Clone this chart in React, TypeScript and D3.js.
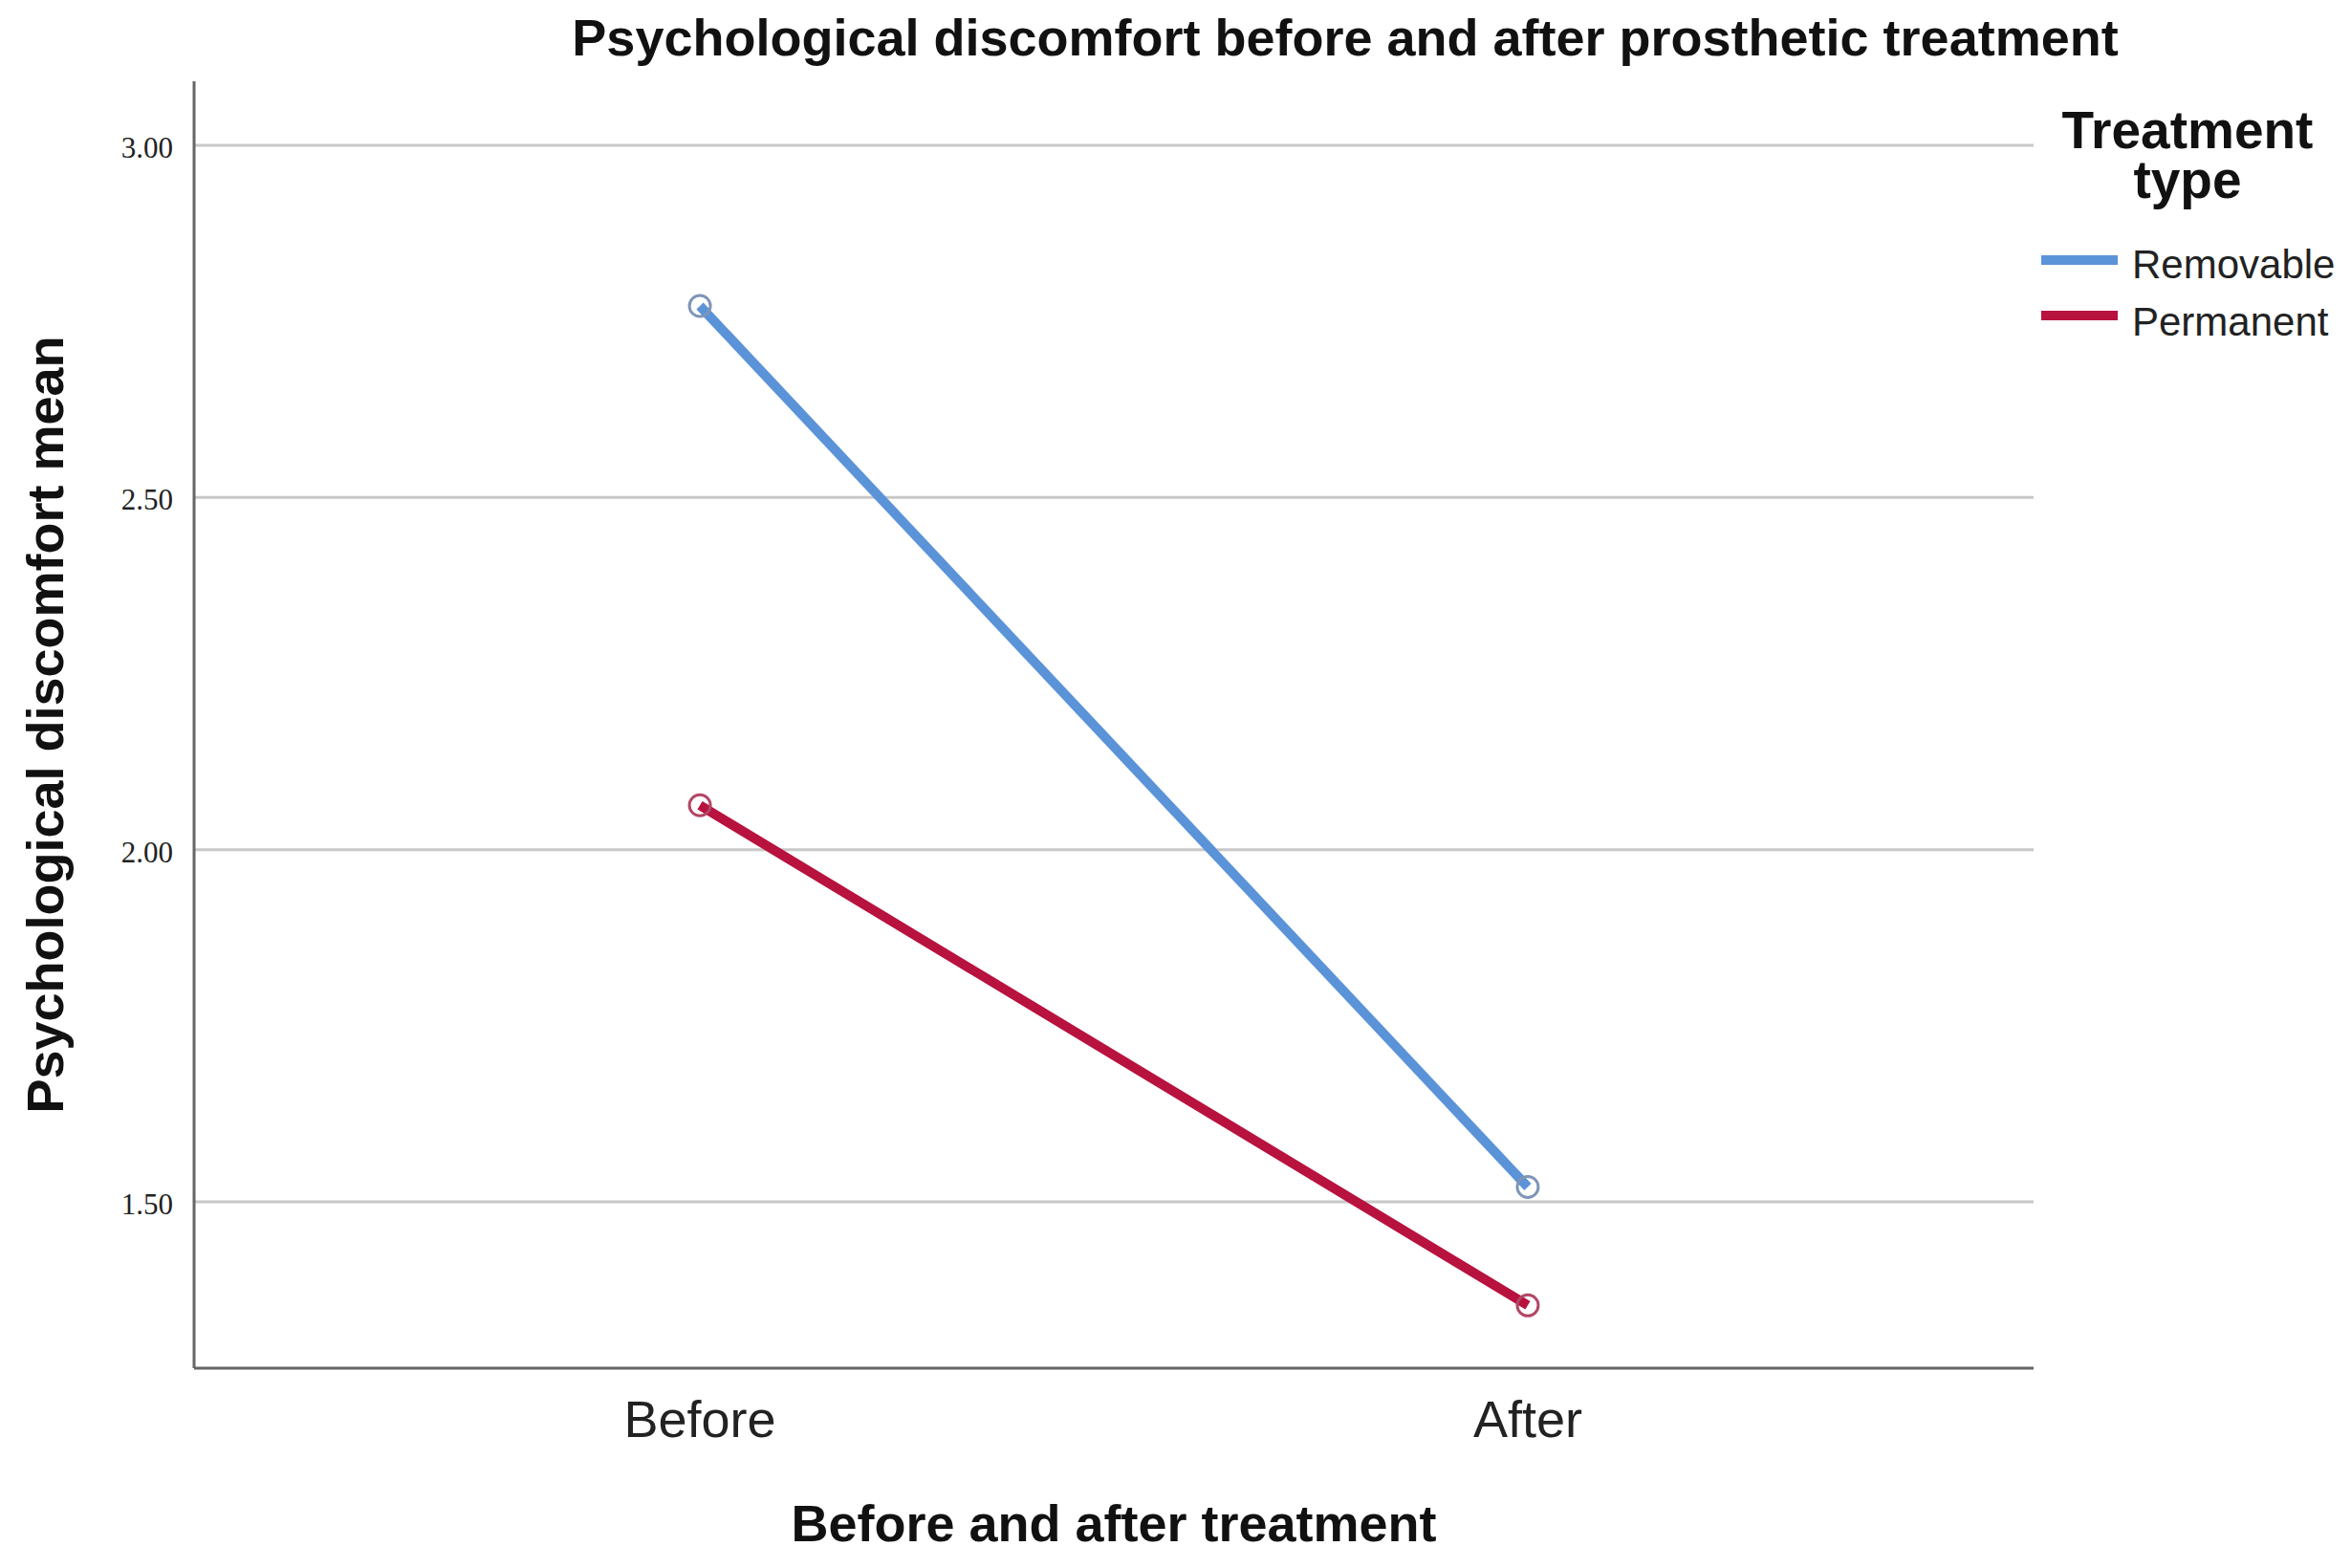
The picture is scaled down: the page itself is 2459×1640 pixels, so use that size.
import React from "react";
import * as d3 from "d3";

const categories = ["Before", "After"];
const seriesNames = ["Removable", "Permanent"];
const removableValues = [2.772, 1.521];
const permanentValues = [2.063, 1.353];
const yTicks = [1.5, 2.0, 2.5, 3.0];
const colors = ["#5b93d8", "#b8123f"];
const markerColors = ["#7f95b5", "#b24766"];

const W = 2459;
const H = 1640;
const left = 203;
const right = 2127;
const top = 85;
const bottom = 1431;

export default function App() {
  const x = d3.scalePoint<string>().domain(categories).range([left, right]).padding(0.611);
  const y = d3.scaleLinear().domain([1.2638, 3.091]).range([bottom, top]);
  const line = d3
    .line<number>()
    .x((_, i) => x(categories[i]) as number)
    .y((d) => y(d));
  const series = [removableValues, permanentValues];
  const fmt = d3.format(".2f");
  const sans = "'Liberation Sans', Arial, sans-serif";

  return (
    <svg
      width={W}
      height={H}
      style={{ position: "absolute", left: 0, top: 0, background: "#fff" }}
    >
      <rect x={0} y={0} width={W} height={H} fill="#fff" />
      {/* gridlines */}
      {yTicks.map((t) => (
        <line key={t} x1={left} x2={right} y1={y(t)} y2={y(t)} stroke="#c8c8c8" strokeWidth={3} />
      ))}
      {/* axes */}
      <line x1={left} x2={left} y1={top} y2={bottom} stroke="#666" strokeWidth={3} />
      <line x1={left} x2={right} y1={bottom} y2={bottom} stroke="#666" strokeWidth={3} />
      {/* y tick labels */}
      {yTicks.map((t) => (
        <text
          key={t}
          x={181}
          y={y(t) + 6}
          textAnchor="end"
          dominantBaseline="middle"
          fontFamily="'Liberation Serif', 'Times New Roman', serif"
          fontSize={31}
          fill="#222"
        >
          {fmt(t)}
        </text>
      ))}
      {/* x tick labels */}
      {categories.map((c) => (
        <text
          key={c}
          x={x(c) as number}
          y={1503}
          textAnchor="middle"
          fontFamily={sans}
          fontSize={54}
          fill="#222"
        >
          {c}
        </text>
      ))}
      {/* lines */}
      {series.map((s, i) => (
        <g key={seriesNames[i]}>
          <path d={line(s) || ""} fill="none" stroke={colors[i]} strokeWidth={10} />
          {s.map((v, j) => (
            <circle
              key={j}
              cx={x(categories[j]) as number}
              cy={y(v)}
              r={11}
              fill="none"
              stroke={markerColors[i]}
              strokeWidth={3}
            />
          ))}
        </g>
      ))}
      {/* title */}
      <text
        x={1407}
        y={58}
        textAnchor="middle"
        fontFamily={sans}
        fontWeight="bold"
        fontSize={54}
        fill="#111"
      >
        Psychological discomfort before and after prosthetic treatment
      </text>
      {/* y axis title */}
      <text
        transform={`translate(66, ${(top + bottom) / 2 + 0}) rotate(-90)`}
        textAnchor="middle"
        fontFamily={sans}
        fontWeight="bold"
        fontSize={54}
        fill="#111"
      >
        Psychological discomfort mean
      </text>
      {/* x axis title */}
      <text
        x={(left + right) / 2}
        y={1612}
        textAnchor="middle"
        fontFamily={sans}
        fontWeight="bold"
        fontSize={54}
        fill="#111"
      >
        Before and after treatment
      </text>
      {/* legend */}
      <text x={2288} y={155} textAnchor="middle" fontFamily={sans} fontWeight="bold" fontSize={55} fill="#111">
        Treatment
      </text>
      <text x={2288} y={207} textAnchor="middle" fontFamily={sans} fontWeight="bold" fontSize={55} fill="#111">
        type
      </text>
      {seriesNames.map((n, i) => (
        <g key={n}>
          <line x1={2135} x2={2215} y1={272 + i * 58} y2={272 + i * 58} stroke={colors[i]} strokeWidth={10} />
          <text x={2230} y={291 + i * 60} fontFamily={sans} fontSize={42} fill="#222">
            {n}
          </text>
        </g>
      ))}
    </svg>
  );
}
